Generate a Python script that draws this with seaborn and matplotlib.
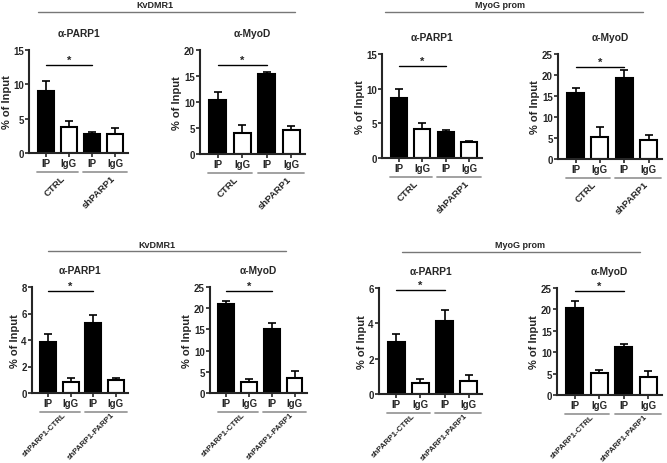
import numpy as np
import pandas as pd
import matplotlib
matplotlib.use("Agg")
import matplotlib.pyplot as plt
import seaborn as sns
from matplotlib.lines import Line2D

# data (bar height, upper error = SEM)
bar_labels = ["IP", "IgG", "IP", "IgG"]
top_groups = ["CTRL", "shPARP1"]
bottom_groups = ["shPARP1-CTRL", "shPARP1-PARP1"]

kv_parp1_mean = [9.1, 3.8, 2.8, 2.7]
kv_parp1_sem = [1.4, 0.8, 0.2, 1.0]
kv_myod_mean = [10.4, 4.1, 15.3, 4.6]
kv_myod_sem = [1.6, 1.5, 0.5, 0.7]
myog_parp1_mean = [8.6, 4.2, 3.8, 2.3]
myog_parp1_sem = [1.4, 0.9, 0.2, 0.2]
myog_myod_mean = [15.7, 5.2, 19.4, 4.5]
myog_myod_sem = [1.3, 2.4, 1.9, 1.2]

kv_parp1_mean2 = [3.85, 0.85, 5.25, 0.95]
kv_parp1_sem2 = [0.6, 0.27, 0.65, 0.2]
kv_myod_mean2 = [20.9, 2.6, 15.2, 3.5]
kv_myod_sem2 = [0.7, 0.6, 1.2, 1.6]
myog_parp1_mean2 = [2.95, 0.6, 4.15, 0.75]
myog_parp1_sem2 = [0.45, 0.25, 0.6, 0.3]
myog_myod_mean2 = [20.3, 5.1, 11.1, 4.3]
myog_myod_sem2 = [1.6, 0.8, 0.9, 1.2]

# y-axis max / step / significance-line height
ymax = [15, 20, 15, 25, 8, 25, 6, 25]
ystep = [5, 5, 5, 5, 2, 5, 2, 5]
sig_y = [12.8, 17.1, 13.3, 21.9, 7.7, 24.0, 5.9, 24.3]

sns.set_style("ticks")
plt.rcParams["font.family"] = ["Liberation Sans", "DejaVu Sans"]
plt.rcParams["font.weight"] = "bold"

W, H = 667, 464
fig = plt.figure(figsize=(W / 100, H / 100), dpi=100)

def box(l, t, r, b):
    return [l / W, 1 - b / H, (r - l) / W, (b - t) / H]

# rect, title, means, sems, group names, group label size, label offset (px)
panels = [
    (box(29, 51, 128, 154), "α-PARP1", kv_parp1_mean, kv_parp1_sem, top_groups, 6.8, -1),
    (box(200, 51, 305, 155), "α-MyoD", kv_myod_mean, kv_myod_sem, top_groups, 6.8, -1),
    (box(382, 55, 482, 159), "α-PARP1", myog_parp1_mean, myog_parp1_sem, top_groups, 6.8, -1),
    (box(558, 55, 662, 160), "α-MyoD", myog_myod_mean, myog_myod_sem, top_groups, 6.8, -1),
    (box(32, 288, 128, 394), "α-PARP1", kv_parp1_mean2, kv_parp1_sem2, bottom_groups, 5.7, 1),
    (box(210, 288, 307, 394), "α-MyoD", kv_myod_mean2, kv_myod_sem2, bottom_groups, 5.7, 1),
    (box(379, 289, 482, 395), "α-PARP1", myog_parp1_mean2, myog_parp1_sem2, bottom_groups, 5.7, 1),
    (box(557, 289, 662, 396), "α-MyoD", myog_myod_mean2, myog_myod_sem2, bottom_groups, 5.7, 1),
]

for i, (rect, title, mean, sem, groups, gsize, goff) in enumerate(panels):
    ax = fig.add_axes(rect)
    df = pd.DataFrame({"pos": [0, 1, 2, 3], "val": mean})
    sns.barplot(data=df, x="pos", y="val", hue="pos", native_scale=True,
                palette={0: "black", 1: "white", 2: "black", 3: "white"},
                legend=False, width=0.7, edgecolor="black", linewidth=1.5,
                errorbar=None, ax=ax)
    ax.errorbar(df["pos"], mean, yerr=[np.zeros(4), sem], fmt="none",
                ecolor="black", elinewidth=1.2, capsize=3, capthick=1.2, zorder=1)
    ax.set_xlim(-0.72, 3.55)
    ax.set_ylim(0, ymax[i])
    ax.set_yticks(np.arange(0, ymax[i] + 0.1, ystep[i]))
    ax.set_xticks([0, 1, 2, 3])
    ax.set_xticklabels(bar_labels)
    ax.tick_params(labelsize=7, width=1.2, length=2.8, pad=1)
    for lab in ax.get_xticklabels() + ax.get_yticklabels():
        lab.set_fontweight("bold")
    ax.set_xlabel("")
    ax.set_ylabel("% of Input", fontsize=8, fontweight="bold", labelpad=1)
    for s in ["left", "bottom"]:
        ax.spines[s].set_linewidth(1.5)
    sns.despine(ax=ax)
    ax.set_title(title, fontsize=7.4, fontweight="bold", pad=10)

    # significance bar
    ax.plot([0, 2], [sig_y[i], sig_y[i]], color="black", lw=1, clip_on=False)
    ax.text(1, sig_y[i], "*", ha="center", va="bottom", fontsize=8, fontweight="bold")

    # group underlines and rotated labels
    h_px = rect[3] * H
    yl = -19 / h_px
    trans = ax.get_xaxis_transform()
    for g, (x0, x1) in enumerate([(-0.38, 1.4), (1.62, 3.5)]):
        ax.add_line(Line2D([x0, x1], [yl, yl], color="#9a9a9a", lw=1.3,
                           transform=trans, clip_on=False))
        ax.text(0.65 + 2.15 * g, yl + goff / h_px, groups[g], transform=trans,
                rotation=45, ha="right", va="top", rotation_mode="anchor",
                fontsize=gsize, fontweight="bold")

# top headings
headings = [("KvDMR1", 155, 6, 38, 295, 13), ("MyoG prom", 500, 6, 385, 643, 13),
            ("KvDMR1", 157, 245, 48, 286, 252), ("MyoG prom", 520, 245, 402, 640, 253)]
for name, tx, ty, lx0, lx1, ly in headings:
    fig.text(tx / W, 1 - ty / H, name, ha="center", va="center",
             fontsize=6.5, fontweight="bold")
    fig.add_artist(Line2D([lx0 / W, lx1 / W], [1 - ly / H, 1 - ly / H],
                          color="#777777", lw=1.0))

plt.savefig("out.png", dpi=100)
